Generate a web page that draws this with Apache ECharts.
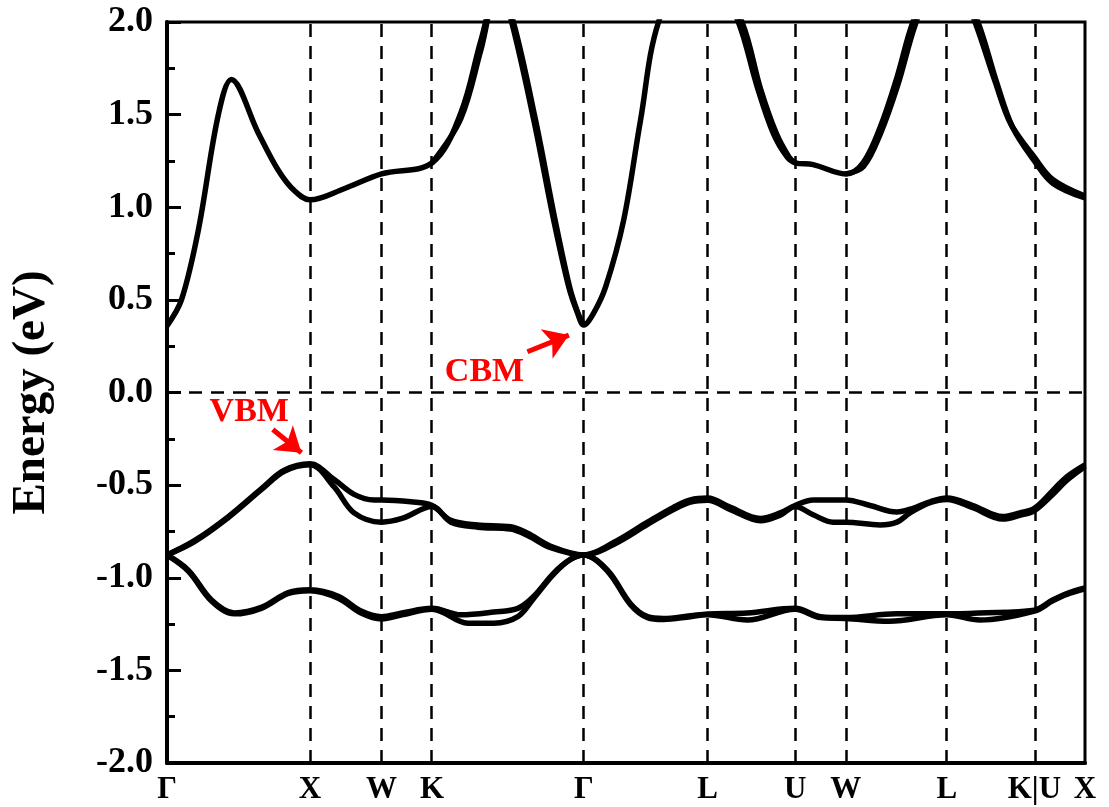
<!DOCTYPE html>
<html>
<head>
<meta charset="utf-8">
<script src="https://cdn.jsdelivr.net/npm/echarts@6/dist/echarts.min.js"></script>
<style>
html,body{margin:0;padding:0;background:#fff;}
#chart{width:1109px;height:807px;}
</style>
</head>
<body>
<div id="chart"></div>
<script>
// High-symmetry k-path positions (2π/a) and labels
const kPoints = [0, 1.0, 1.5, 1.854, 2.914, 3.780, 4.392, 4.746, 5.453, 6.065, 6.419];
const kLabels = ['Γ', 'X', 'W', 'K', 'Γ', 'L', 'U', 'W', 'L', 'K|U', 'X'];
const yTicks = [-2.0, -1.5, -1.0, -0.5, 0.0, 0.5, 1.0, 1.5, 2.0];

// Lowest conduction band [k, E(eV)]
const cbMain = [[0,0.36],[0.101,0.50],[0.220,0.88],[0.359,1.50],[0.450,1.69],[0.639,1.40],[0.778,1.20],[0.890,1.09],[1.0,1.04],[1.238,1.10],[1.5,1.18],[1.854,1.24],[2.055,1.51],[2.195,1.90],[2.32,2.2],[2.41,2.0],[2.565,1.47],[2.704,0.93],[2.809,0.57],[2.87,0.43],[2.914,0.364],[2.984,0.43],[3.067,0.57],[3.193,0.93],[3.311,1.47],[3.437,2.0],[3.72,2.45],[3.995,2.0],[4.127,1.65],[4.239,1.40],[4.337,1.27],[4.392,1.24],[4.518,1.23],[4.746,1.18],[4.867,1.24],[4.986,1.43],[5.104,1.70],[5.216,2.0],[5.44,2.4],[5.670,2.0],[5.803,1.67],[5.914,1.43],[6.065,1.25],[6.193,1.13],[6.419,1.05]];
// Spin-split partner of the conduction band where it is visibly doubled
const cbSplitA = [[1.854,1.24],[2.055,1.48],[2.195,1.85],[2.32,2.2],[2.422,2.0],[2.577,1.47],[2.714,0.93],[2.815,0.57],[2.873,0.43],[2.914,0.364]];
const cbSplitB = [[3.72,2.45],[4.02,2.0],[4.15,1.64],[4.26,1.40],[4.35,1.27],[4.392,1.24]];
const cbSplitC = [[4.746,1.18],[4.87,1.22],[4.99,1.40],[5.11,1.66],[5.23,1.98],[5.44,2.4],[5.65,2.0],[5.79,1.68],[5.90,1.45],[6.065,1.27],[6.193,1.15],[6.419,1.06]];

// Valence bands
const vb1 = [[0,-0.877],[0.192,-0.80],[0.429,-0.67],[0.659,-0.52],[0.820,-0.42],[1.0,-0.385],[1.169,-0.47],[1.308,-0.55],[1.448,-0.58],[1.5,-0.58],[1.706,-0.59],[1.854,-0.61],[1.985,-0.69],[2.173,-0.715],[2.403,-0.725],[2.522,-0.76],[2.683,-0.83],[2.914,-0.877],[3.123,-0.81],[3.360,-0.70],[3.541,-0.62],[3.660,-0.58],[3.780,-0.57],[3.940,-0.62],[4.149,-0.68],[4.288,-0.65],[4.392,-0.61],[4.518,-0.58],[4.746,-0.58],[4.916,-0.61],[5.104,-0.645],[5.216,-0.625],[5.335,-0.59],[5.453,-0.57],[5.635,-0.61],[5.844,-0.67],[5.963,-0.65],[6.065,-0.625],[6.193,-0.53],[6.291,-0.455],[6.419,-0.39]];
const vb2 = [[0,-0.877],[0.192,-0.805],[0.429,-0.675],[0.659,-0.525],[0.820,-0.425],[1.0,-0.39],[1.169,-0.51],[1.308,-0.65],[1.5,-0.70],[1.643,-0.68],[1.854,-0.615],[1.985,-0.70],[2.173,-0.727],[2.403,-0.737],[2.522,-0.772],[2.683,-0.838],[2.914,-0.877],[3.123,-0.82],[3.360,-0.712],[3.541,-0.632],[3.660,-0.592],[3.780,-0.582],[3.940,-0.632],[4.149,-0.692],[4.288,-0.662],[4.392,-0.615],[4.518,-0.66],[4.658,-0.70],[4.746,-0.70],[4.986,-0.715],[5.104,-0.70],[5.195,-0.65],[5.335,-0.595],[5.453,-0.577],[5.635,-0.622],[5.844,-0.683],[5.963,-0.663],[6.065,-0.638],[6.193,-0.55],[6.291,-0.475],[6.419,-0.40]];
const vb3 = [[0,-0.877],[0.150,-0.96],[0.311,-1.12],[0.471,-1.19],[0.659,-1.16],[0.848,-1.08],[1.0,-1.065],[1.197,-1.10],[1.357,-1.18],[1.5,-1.21],[1.643,-1.19],[1.854,-1.165],[2.055,-1.20],[2.285,-1.185],[2.453,-1.165],[2.565,-1.10],[2.704,-0.975],[2.823,-0.90],[2.914,-0.877],[3.081,-0.96],[3.241,-1.14],[3.360,-1.21],[3.471,-1.22],[3.660,-1.205],[3.780,-1.195],[4.058,-1.19],[4.392,-1.165],[4.570,-1.21],[4.746,-1.215],[5.100,-1.195],[5.453,-1.195],[5.684,-1.19],[6.065,-1.175],[6.193,-1.12],[6.291,-1.085],[6.419,-1.055]];
const vb4 = [[0,-0.877],[0.150,-0.965],[0.311,-1.125],[0.471,-1.195],[0.659,-1.165],[0.848,-1.085],[1.0,-1.07],[1.197,-1.11],[1.357,-1.19],[1.5,-1.222],[1.643,-1.20],[1.854,-1.17],[2.104,-1.245],[2.285,-1.245],[2.453,-1.21],[2.565,-1.11],[2.704,-0.98],[2.823,-0.90],[2.914,-0.877],[3.081,-0.965],[3.241,-1.145],[3.360,-1.215],[3.471,-1.225],[3.660,-1.21],[3.780,-1.2],[4.058,-1.228],[4.392,-1.17],[4.570,-1.215],[4.746,-1.22],[5.050,-1.235],[5.453,-1.2],[5.684,-1.228],[6.065,-1.18],[6.193,-1.125],[6.291,-1.09],[6.419,-1.06]];

const FONT = "'Liberation Serif','Times New Roman',serif";

function band(data, extra) {
  return Object.assign({
    type: 'line', data: data, smooth: 0.35, symbol: 'none',
    lineStyle: { color: '#000', width: 5.5 }, clip: true, silent: true, z: 3
  }, extra || {});
}

const guideLines = kPoints.slice(1, -1).map(k => ({ xAxis: k }));
guideLines.push({ yAxis: 0 });

const option = {
  animation: false,
  backgroundColor: '#fff',
  grid: { left: 165, right: 24, top: 22, bottom: 44, show: true, borderColor: '#000', borderWidth: 3, containLabel: false },
  xAxis: {
    type: 'value', min: 0, max: kPoints[kPoints.length - 1],
    axisLine: { onZero: false, lineStyle: { color: '#000', width: 4 } },
    axisTick: { show: false },
    splitLine: { show: false },
    axisLabel: {
      customValues: kPoints, showMinLabel: true, showMaxLabel: true,
      formatter: function (v) {
        let best = 0;
        for (let i = 0; i < kPoints.length; i++) if (Math.abs(kPoints[i] - v) < Math.abs(kPoints[best] - v)) best = i;
        return kLabels[best];
      },
      color: '#000', fontFamily: FONT, fontWeight: 'bold', fontSize: 31, margin: 11
    }
  },
  yAxis: {
    type: 'value', min: yTicks[0], max: yTicks[yTicks.length - 1], interval: 0.5,
    name: 'Energy (eV)', nameLocation: 'middle', nameGap: 112,
    nameTextStyle: { color: '#000', fontFamily: FONT, fontWeight: 'bold', fontSize: 47 },
    axisLine: { onZero: false, lineStyle: { color: '#000', width: 4 } },
    axisTick: { inside: true, length: 14, lineStyle: { color: '#000', width: 3 } },
    minorTick: { show: true, splitNumber: 2, length: 8, lineStyle: { color: '#000', width: 3 } },
    splitLine: { show: false },
    axisLabel: {
      formatter: v => v.toFixed(1), color: '#000', fontFamily: FONT, fontWeight: 'bold', fontSize: 36, margin: 14
    }
  },
  series: [
    band(cbMain, {
      markLine: {
        silent: true, symbol: 'none', animation: false,
        label: { show: false },
        lineStyle: { color: '#000', width: 2.5, type: [13, 9] },
        data: guideLines
      }
    }),
    band(cbSplitA), band(cbSplitB), band(cbSplitC),
    band(vb1), band(vb2), band(vb3), band(vb4),
    {
      type: 'line', data: [[0, -5]], symbol: 'none', lineStyle: { width: 0 }, silent: true, z: 5,
      markLine: {
        silent: true, animation: false, label: { show: false },
        symbol: ['none', 'arrow'], symbolSize: 24,
        lineStyle: { color: '#ff0000', width: 5, type: 'solid' },
        itemStyle: { color: '#ff0000' },
        data: [
          [{ coord: [0.74, -0.20] }, { coord: [0.94, -0.325] }],
          [{ coord: [2.52, 0.22] }, { coord: [2.81, 0.31] }]
        ]
      },
      markPoint: {
        silent: true, animation: false, symbol: 'circle', symbolSize: 1,
        itemStyle: { color: 'rgba(0,0,0,0)' },
        label: { show: true, position: 'inside', color: '#ff0000', fontFamily: FONT, fontWeight: 'bold', fontSize: 34 },
        data: [
          { coord: [0.575, -0.105], label: { formatter: 'VBM' } },
          { coord: [2.22, 0.11], label: { formatter: 'CBM' } }
        ]
      }
    }
  ]
};

const chart = echarts.init(document.getElementById('chart'), null, { renderer: 'canvas' });
chart.setOption(option);
</script>
</body>
</html>
